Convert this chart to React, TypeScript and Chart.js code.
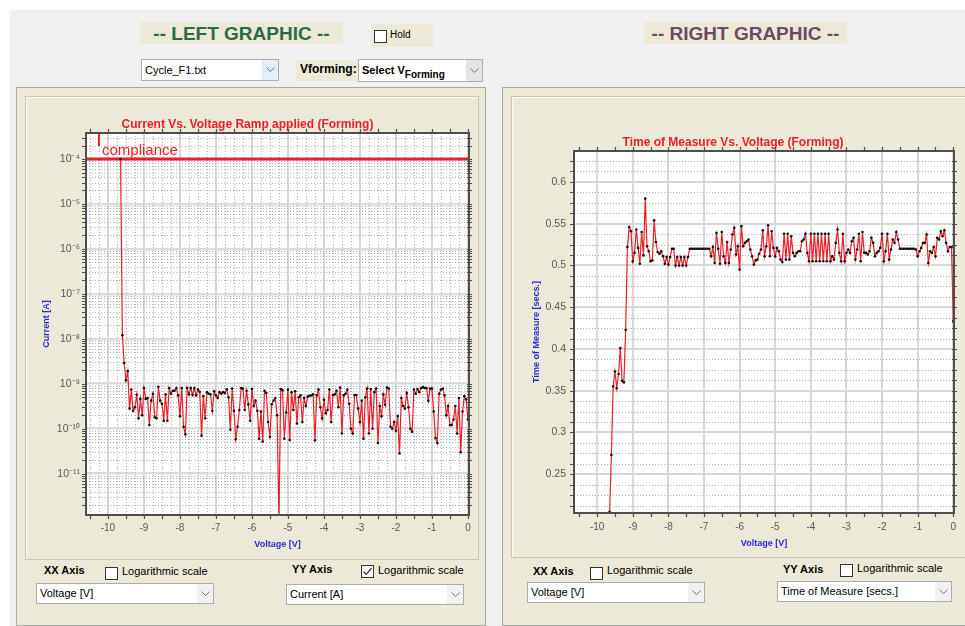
import React, { useEffect, useRef } from "react";
import { Chart, registerables } from "chart.js";
Chart.register(...registerables);

// ---------------- DATA ----------------
const VOLTAGE = [
  -9.65, -9.6, -9.55, -9.5, -9.45, -9.4, -9.35, -9.3, -9.25, -9.2,
  -9.15, -9.1, -9.05, -9, -8.95, -8.9, -8.85, -8.8, -8.75, -8.7,
  -8.65, -8.6, -8.55, -8.5, -8.45, -8.4, -8.35, -8.3, -8.25, -8.2,
  -8.15, -8.1, -8.05, -8, -7.95, -7.9, -7.85, -7.8, -7.75, -7.7,
  -7.65, -7.6, -7.55, -7.5, -7.45, -7.4, -7.35, -7.3, -7.25, -7.2,
  -7.15, -7.1, -7.05, -7, -6.95, -6.9, -6.85, -6.8, -6.75, -6.7,
  -6.65, -6.6, -6.55, -6.5, -6.45, -6.4, -6.35, -6.3, -6.25, -6.2,
  -6.15, -6.1, -6.05, -6, -5.95, -5.9, -5.85, -5.8, -5.75, -5.7,
  -5.65, -5.6, -5.55, -5.5, -5.45, -5.4, -5.35, -5.3, -5.25, -5.2,
  -5.15, -5.1, -5.05, -5, -4.95, -4.9, -4.85, -4.8, -4.75, -4.7,
  -4.65, -4.6, -4.55, -4.5, -4.45, -4.4, -4.35, -4.3, -4.25, -4.2,
  -4.15, -4.1, -4.05, -4, -3.95, -3.9, -3.85, -3.8, -3.75, -3.7,
  -3.65, -3.6, -3.55, -3.5, -3.45, -3.4, -3.35, -3.3, -3.25, -3.2,
  -3.15, -3.1, -3.05, -3, -2.95, -2.9, -2.85, -2.8, -2.75, -2.7,
  -2.65, -2.6, -2.55, -2.5, -2.45, -2.4, -2.35, -2.3, -2.25, -2.2,
  -2.15, -2.1, -2.05, -2, -1.95, -1.9, -1.85, -1.8, -1.75, -1.7,
  -1.65, -1.6, -1.55, -1.5, -1.45, -1.4, -1.35, -1.3, -1.25, -1.2,
  -1.15, -1.1, -1.05, -1, -0.95, -0.9, -0.85, -0.8, -0.75, -0.7,
  -0.65, -0.6, -0.55, -0.5, -0.45, -0.4, -0.35, -0.3, -0.25, -0.2,
  -0.15, -0.1, -0.05, 0,
];

const CURRENT = [
  1e-4, 1.2e-8, 2.9e-9, 1.2e-9, 1.9e-9, 2.8e-10, 7.4e-10, 2.5e-10, 3.0e-10, 5.7e-10,
  1.7e-10, 4.6e-10, 2.0e-10, 8.0e-10, 4.6e-10, 4.8e-10, 1.2e-10, 4.2e-10, 6.0e-10, 1.8e-10,
  1.7e-10, 8.6e-10, 4.2e-10, 3.6e-10, 1.5e-10, 5.8e-10, 1.5e-10, 8.0e-10, 6.0e-10, 7.0e-10,
  7.0e-10, 8.0e-10, 5.5e-10, 1.9e-10, 8.0e-10, 1.1e-10, 7.5e-11, 8.0e-10, 5.8e-10, 8.0e-10,
  5.6e-10, 8.0e-10, 5.5e-10, 7.4e-10, 6.6e-10, 7.0e-11, 5.3e-10, 1.7e-10, 6.5e-10, 6.0e-10,
  5.8e-10, 2.5e-10, 6.8e-10, 5.5e-10, 4.8e-10, 6.5e-10, 6.0e-10, 6.5e-10, 6.2e-10, 7.5e-10,
  5.0e-10, 9.5e-11, 7.8e-10, 2.5e-10, 5.8e-11, 1.1e-10, 2.6e-10, 8.0e-10, 7.8e-10, 2.6e-10,
  7.0e-10, 3.5e-10, 1.5e-10, 7.6e-10, 3.2e-10, 4.2e-10, 2.5e-10, 6.0e-11, 2.4e-10, 5.2e-11,
  7.0e-10, 6.2e-10, 1.4e-10, 6.5e-11, 3.5e-10, 4.2e-10, 4.8e-10, 2.0e-10, 8e-13, 7.6e-10,
  7.2e-10, 6.0e-11, 2.3e-10, 7.4e-10, 5.6e-11, 6.5e-10, 2.6e-10, 6.8e-10, 1.3e-10, 5.0e-10,
  5.5e-10, 1.4e-10, 4.8e-10, 3.2e-10, 5.2e-10, 5.4e-10, 5.5e-10, 5.8e-10, 5.5e-11, 5.5e-10,
  7.4e-10, 3.0e-10, 1.7e-10, 4.4e-10, 2.2e-10, 2.6e-10, 7.4e-10, 1.4e-10, 5.6e-10, 5.8e-10,
  7.0e-10, 3.0e-10, 8.2e-10, 7.8e-11, 5.5e-10, 6.0e-10, 7.4e-10, 3.6e-10, 1.0e-10, 7.8e-11,
  5.6e-10, 5.6e-10, 2.8e-10, 1.4e-10, 4.2e-10, 6.0e-11, 5.0e-10, 7.8e-10, 7.8e-11, 7.6e-10,
  1.0e-10, 6.5e-10, 7.8e-10, 4.8e-11, 3.2e-10, 1.9e-10, 5.8e-10, 3.4e-10, 8.2e-10, 7.8e-10,
  1.1e-10, 1.0e-10, 1.4e-10, 9.0e-11, 1.9e-10, 2.8e-11, 4.8e-10, 3.2e-10, 2.8e-10, 6.2e-10,
  3.0e-10, 1.0e-10, 8.6e-11, 7.4e-10, 6.0e-10, 7.6e-10, 6.5e-10, 8.0e-10, 8.4e-10, 8.0e-10,
  8.0e-10, 4.2e-10, 7.8e-10, 7.8e-10, 2.4e-10, 6.2e-11, 4.8e-11, 6.0e-10, 7.4e-10, 7.8e-10,
  5.5e-10, 2.0e-10, 3.2e-10, 1.2e-10, 1.2e-10, 1.6e-10, 3.2e-10, 7.8e-11, 4.8e-10, 3.0e-11,
  2.4e-10, 5.3e-10, 4.5e-10, 1.6e-10,
];

const TIME_OF_MEASURE = [
  0.205, 0.273, 0.355, 0.373, 0.353, 0.370, 0.401, 0.362, 0.360, 0.423,
  0.522, 0.546, 0.541, 0.505, 0.515, 0.543, 0.521, 0.502, 0.540, 0.512,
  0.580, 0.523, 0.517, 0.505, 0.506, 0.554, 0.528, 0.516, 0.514, 0.517,
  0.511, 0.502, 0.510, 0.501, 0.510, 0.520, 0.520, 0.500, 0.510, 0.500,
  0.510, 0.500, 0.510, 0.500, 0.510, 0.520, 0.520, 0.520, 0.520, 0.520,
  0.520, 0.520, 0.520, 0.520, 0.520, 0.520, 0.520, 0.511, 0.522, 0.503,
  0.539, 0.520, 0.502, 0.540, 0.511, 0.503, 0.528, 0.503, 0.519, 0.537,
  0.545, 0.513, 0.523, 0.495, 0.547, 0.523, 0.527, 0.529, 0.531, 0.519,
  0.511, 0.501, 0.506, 0.507, 0.514, 0.519, 0.542, 0.511, 0.523, 0.548,
  0.511, 0.541, 0.521, 0.511, 0.521, 0.517, 0.507, 0.504, 0.538, 0.507,
  0.538, 0.507, 0.535, 0.515, 0.511, 0.515, 0.517, 0.517, 0.529, 0.531,
  0.538, 0.515, 0.505, 0.538, 0.505, 0.538, 0.505, 0.538, 0.505, 0.538,
  0.505, 0.538, 0.505, 0.538, 0.505, 0.511, 0.507, 0.527, 0.543, 0.515,
  0.505, 0.538, 0.505, 0.515, 0.519, 0.515, 0.529, 0.533, 0.507, 0.519,
  0.538, 0.505, 0.540, 0.515, 0.515, 0.513, 0.517, 0.533, 0.527, 0.511,
  0.515, 0.517, 0.521, 0.538, 0.505, 0.517, 0.538, 0.507, 0.519, 0.531,
  0.527, 0.540, 0.531, 0.520, 0.520, 0.520, 0.520, 0.520, 0.520, 0.520,
  0.520, 0.520, 0.519, 0.511, 0.517, 0.521, 0.527, 0.527, 0.537, 0.503,
  0.517, 0.515, 0.522, 0.511, 0.533, 0.531, 0.541, 0.535, 0.542, 0.527,
  0.517, 0.522, 0.522, 0.433,
];

const COMPLIANCE = 1e-4;
const X_TICKS = [-10, -9, -8, -7, -6, -5, -4, -3, -2, -1, 0];
const LEFT_Y_TICKS = [1e-11, 1e-10, 1e-9, 1e-8, 1e-7, 1e-6, 1e-5, 1e-4];
const RIGHT_Y_TICKS = [0.25, 0.3, 0.35, 0.4, 0.45, 0.5, 0.55, 0.6];

// ---------------- STYLE ----------------
const UI = '"Liberation Sans", Arial, sans-serif';
const RED = "#E8202A";
const BLUE = "#2A2ADA";
const TICK_COLOR = "#5A5A5A";
const BEIGE = "#ECE9D8";

const SUP: Record<string, string> = {
  "-": "\u207B", "0": "\u2070", "1": "\u00B9", "2": "\u00B2", "3": "\u00B3",
  "4": "\u2074", "5": "\u2075", "6": "\u2076", "7": "\u2077", "8": "\u2078", "9": "\u2079",
};
const sup = (n: number) => String(n).split("").map((c) => SUP[c] ?? c).join("");

type Deco = {
  xMinor: number[];
  yMinor: number[];
  xMarks: number[];
  yMarks: number[];
  compliance?: boolean;
};

function decoPlugin(d: Deco) {
  return {
    id: "deco",
    beforeDraw(chart: any) {
      const { ctx, chartArea: a } = chart;
      ctx.save();
      ctx.fillStyle = "#ffffff";
      ctx.fillRect(a.left, a.top, a.right - a.left, a.bottom - a.top);
      ctx.restore();
    },
    beforeDatasetsDraw(chart: any) {
      const { ctx, chartArea: a, scales } = chart;
      ctx.save();
      ctx.strokeStyle = "#B4B4B4";
      ctx.lineWidth = 1;
      ctx.setLineDash([1, 2]);
      ctx.beginPath();
      d.xMinor.forEach((v) => {
        const p = Math.round(scales.x.getPixelForValue(v)) + 0.5;
        if (p <= a.left || p >= a.right) return;
        ctx.moveTo(p, a.top);
        ctx.lineTo(p, a.bottom);
      });
      d.yMinor.forEach((v) => {
        const p = Math.round(scales.y.getPixelForValue(v)) + 0.5;
        if (p <= a.top || p >= a.bottom) return;
        ctx.moveTo(a.left, p);
        ctx.lineTo(a.right, p);
      });
      ctx.stroke();
      ctx.restore();
    },
    afterDraw(chart: any) {
      const { ctx, chartArea: a, scales } = chart;
      ctx.save();
      ctx.strokeStyle = "#505050";
      ctx.lineWidth = 1.2;
      ctx.beginPath();
      d.xMarks.forEach((v) => {
        const p = Math.round(scales.x.getPixelForValue(v)) + 0.5;
        if (p < a.left || p > a.right) return;
        ctx.moveTo(p, a.bottom);
        ctx.lineTo(p, a.bottom + 4);
        ctx.moveTo(p, a.top);
        ctx.lineTo(p, a.top - 4);
      });
      d.yMarks.forEach((v) => {
        const p = Math.round(scales.y.getPixelForValue(v)) + 0.5;
        if (p < a.top || p > a.bottom) return;
        ctx.moveTo(a.left, p);
        ctx.lineTo(a.left - 4, p);
        ctx.moveTo(a.right - 2, p);
        ctx.lineTo(a.right + 3, p);
      });
      ctx.stroke();
      ctx.strokeStyle = "#4E4E4E";
      ctx.lineWidth = 2;
      ctx.strokeRect(a.left, a.top, a.right - a.left, a.bottom - a.top);
      if (d.compliance) {
        const xp = scales.x.getPixelForValue(-10.25);
        const yp = scales.y.getPixelForValue(COMPLIANCE);
        ctx.strokeStyle = RED;
        ctx.lineWidth = 2;
        ctx.beginPath();
        ctx.moveTo(xp, a.top + 1);
        ctx.lineTo(xp, a.top + 13);
        ctx.stroke();
        ctx.fillStyle = RED;
        ctx.font = `15px ${UI}`;
        ctx.textBaseline = "middle";
        ctx.textAlign = "left";
        ctx.fillText("compliance", xp + 3, yp - 8);
      }
      ctx.restore();
    },
  };
}

const tickFont = { family: UI, size: 10 };
const axisTitleFont = { family: UI, size: 9, weight: "bold" as const, lineHeight: 1.2 };
const titleFont = { family: UI, size: 12, weight: "bold" as const, lineHeight: 1.2 };

function leftConfig(): any {
  const xMin = -10.61, xMax = 0.03, yMin = 1.2e-12, yMax = 3.8e-4;
  const xMinor: number[] = [];
  for (let k = -42; k <= 0; k++) if (k % 4 !== 0) xMinor.push(k / 4);
  const yMinor: number[] = [];
  for (let e = -12; e <= -4; e++) for (let m = 2; m <= 9; m++) {
    const v = m * Math.pow(10, e);
    if (v > yMin && v < yMax) yMinor.push(v);
  }
  const xMarks: number[] = [];
  for (let k = -21; k <= 0; k++) xMarks.push(k / 2);
  return {
    type: "line",
    data: {
      datasets: [
        {
          data: VOLTAGE.map((v, i) => ({ x: v, y: CURRENT[i] })),
          borderColor: RED, borderWidth: 1.2, pointRadius: 1.3,
          pointBackgroundColor: "#111", pointBorderWidth: 0, clip: 0,
        },
        {
          data: [{ x: xMin, y: COMPLIANCE }, { x: xMax, y: COMPLIANCE }],
          borderColor: RED, borderWidth: 3, pointRadius: 0, clip: 0,
        },
      ],
    },
    options: {
      animation: false, responsive: false, devicePixelRatio: 1,
      layout: { padding: { left: 0, right: 9, top: 0, bottom: 0 } },
      elements: { line: { tension: 0 } },
      plugins: {
        legend: { display: false }, tooltip: { enabled: false },
        title: {
          display: true, text: "Current Vs. Voltage Ramp applied (Forming)",
          color: RED, font: titleFont, padding: { top: 20.3, bottom: 1.3 },
        },
      },
      scales: {
        x: {
          type: "linear", min: xMin, max: xMax,
          afterBuildTicks: (s: any) => { s.ticks = X_TICKS.map((v) => ({ value: v })); },
          afterFit: (s: any) => { s.height = 44; },
          ticks: { color: TICK_COLOR, font: tickFont, padding: 7, autoSkip: false, maxRotation: 0, callback: (v: any) => String(v) },
          grid: { color: "#D8D8D8", lineWidth: 2, drawTicks: false },
          border: { display: false },
          title: { display: true, text: "Voltage [V]", color: BLUE, font: axisTitleFont, padding: { top: 0, bottom: 8.6 } },
        },
        y: {
          type: "logarithmic", min: yMin, max: yMax,
          afterBuildTicks: (s: any) => { s.ticks = LEFT_Y_TICKS.map((v) => ({ value: v })); },
          afterFit: (s: any) => { s.width = 60; },
          ticks: { color: TICK_COLOR, font: { family: UI, size: 10.5 }, padding: 6, autoSkip: false, callback: (v: any) => "10" + sup(Math.round(Math.log10(v))) },
          grid: { color: "#DCDCDC", lineWidth: 2.5, drawTicks: false },
          border: { display: false },
          title: { display: true, text: "Current [A]", color: BLUE, font: axisTitleFont, padding: { top: 15.6, bottom: 0 } },
        },
      },
    },
    plugins: [decoPlugin({ xMinor, yMinor, xMarks, yMarks: [...yMinor, ...LEFT_Y_TICKS], compliance: true })],
  };
}

function rightConfig(): any {
  const xMin = -10.65, xMax = 0.02, yMin = 0.2036, yMax = 0.637;
  const yMinor: number[] = [];
  for (let k = 17; k <= 50; k++) if (k % 4 !== 0) yMinor.push(k * 0.0125);
  const xMarks: number[] = [];
  for (let k = -21; k <= 0; k++) xMarks.push(k / 2);
  return {
    type: "line",
    data: {
      datasets: [
        {
          data: VOLTAGE.map((v, i) => ({ x: v, y: TIME_OF_MEASURE[i] })),
          borderColor: RED, borderWidth: 1.2, pointRadius: 1.3,
          pointBackgroundColor: "#111", pointBorderWidth: 0, clip: 0,
        },
      ],
    },
    options: {
      animation: false, responsive: false, devicePixelRatio: 1,
      layout: { padding: { left: 0, right: 11, top: 0, bottom: 0 } },
      elements: { line: { tension: 0 } },
      plugins: {
        legend: { display: false }, tooltip: { enabled: false },
        title: {
          display: true, text: "Time of Measure Vs. Voltage (Forming)",
          color: RED, font: titleFont, padding: { top: 38.3, bottom: 1.3 },
        },
      },
      scales: {
        x: {
          type: "linear", min: xMin, max: xMax,
          afterBuildTicks: (s: any) => { s.ticks = X_TICKS.map((v) => ({ value: v })); },
          afterFit: (s: any) => { s.height = 46; },
          ticks: { color: TICK_COLOR, font: tickFont, padding: 8, autoSkip: false, maxRotation: 0, callback: (v: any) => String(v) },
          grid: { color: "#D8D8D8", lineWidth: 2, drawTicks: false },
          border: { display: false },
          title: { display: true, text: "Voltage [V]", color: BLUE, font: axisTitleFont, padding: { top: 0, bottom: 9.6 } },
        },
        y: {
          type: "linear", min: yMin, max: yMax,
          afterBuildTicks: (s: any) => { s.ticks = RIGHT_Y_TICKS.map((v) => ({ value: v })); },
          afterFit: (s: any) => { s.width = 62; },
          ticks: { color: TICK_COLOR, font: { family: UI, size: 10.5 }, padding: 8, autoSkip: false, callback: (v: any) => String(v) },
          grid: { color: "#D8D8D8", lineWidth: 2, drawTicks: false },
          border: { display: false },
          title: { display: true, text: "Time of Measure [secs.]", color: BLUE, font: axisTitleFont, padding: { top: 19.6, bottom: 0 } },
        },
      },
    },
    plugins: [decoPlugin({ xMinor: [], yMinor, xMarks, yMarks: [...yMinor, ...RIGHT_Y_TICKS] })],
  };
}

// ---------------- UI PIECES ----------------
function ChartCanvas({ make, l, t, w, h }: { make: () => any; l: number; t: number; w: number; h: number }) {
  const ref = useRef<HTMLCanvasElement>(null);
  useEffect(() => {
    const chart = new Chart(ref.current as HTMLCanvasElement, make());
    return () => chart.destroy();
  }, []);
  return (
    <canvas ref={ref} width={w} height={h}
      style={{ position: "absolute", left: l, top: t, width: w, height: h, display: "block" }} />
  );
}

function Abs({ l, t, w, h, style, children }: any) {
  return (
    <div style={{ position: "absolute", left: l, top: t, width: w, height: h, boxSizing: "border-box", ...style }}>
      {children}
    </div>
  );
}

function Txt({ l, cy, text, size = 11, bold = false, color = "#000" }: any) {
  return (
    <div style={{ position: "absolute", left: l, top: cy - 8, height: 16, lineHeight: "16px", whiteSpace: "nowrap",
      font: `${bold ? "bold " : ""}${size}px ${UI}`, color }}>{text}</div>
  );
}

function Combo({ l, t, w, h, children, arrowBg = "#F0F0F0" }: any) {
  return (
    <Abs l={l} t={t} w={w} h={h} style={{ background: "#fff", border: "1px solid #ABADB3", font: `11px ${UI}`, color: "#000" }}>
      <div style={{ position: "absolute", left: 3, top: 0, height: h - 2, lineHeight: `${h - 2}px`, whiteSpace: "nowrap" }}>{children}</div>
      <div style={{ position: "absolute", right: 0, top: 0, width: 16, height: h - 2, background: arrowBg,
        display: "flex", alignItems: "center", justifyContent: "center" }}>
        <svg width="9" height="6"><polyline points="0.5,0.5 4.5,4.5 8.5,0.5" fill="none" stroke="#777" strokeWidth="1" /></svg>
      </div>
    </Abs>
  );
}

function Check({ l, t, checked = false }: any) {
  return (
    <Abs l={l} t={t} w={13} h={13} style={{ border: "1px solid #333", background: "#fff" }}>
      {checked && (
        <svg width="11" height="11" style={{ position: "absolute", left: 0, top: 0 }}>
          <polyline points="1.5,5.5 4.3,8.3 9.5,2" fill="none" stroke="#333" strokeWidth="1.2" />
        </svg>
      )}
    </Abs>
  );
}

export default function App() {
  return (
    <div style={{ position: "relative", width: 965, height: 626, overflow: "hidden", background: "#fff", fontFamily: UI }}>
      <style>{`body{margin:0}`}</style>
      <Abs l={10} t={10} w={955} h={616} style={{ background: "#F0F0F0" }} />

      <Abs l={140} t={22} w={203} h={22} style={{ background: BEIGE, textAlign: "center", font: `bold 19px ${UI}`, color: "#2F6A48", lineHeight: "23px" }}>
        -- LEFT GRAPHIC --
      </Abs>
      <Abs l={371} t={24} w={62} h={23} style={{ background: BEIGE }} />
      <Check l={374} t={30} />
      <Txt l={390} cy={37} text="Hold" size={10} />
      <Combo l={141} t={59} w={138} h={22} arrowBg="#E3EEF8">Cycle_F1.txt</Combo>
      <Abs l={296} t={60} w={62} h={21} style={{ background: BEIGE }} />
      <Txt l={300} cy={70} text="Vforming:" size={12} bold />
      <Combo l={358} t={59} w={125} h={23} arrowBg="#E4E4E4">
        <span style={{ fontWeight: "bold" }}>Select V<sub style={{ fontSize: 10, verticalAlign: "-4px" }}>Forming</sub></span>
      </Combo>
      <Abs l={644} t={22} w={203} h={22} style={{ background: BEIGE, textAlign: "center", font: `bold 19px ${UI}`, color: "#6C4A66", lineHeight: "23px" }}>
        -- RIGHT GRAPHIC --
      </Abs>

      <Abs l={16} t={87} w={470} h={539} style={{ background: BEIGE, border: "1px solid #A8A8A8" }} />
      <Abs l={25} t={96} w={454} h={464} style={{ border: "1px solid #CBC7B2", boxShadow: "inset 1px 1px 0 #FAF9F3" }} />
      <ChartCanvas make={leftConfig} l={26} t={97} w={452} h={462} />
      <Txt l={44} cy={572} text="XX Axis" bold />
      <Check l={105} t={567} />
      <Txt l={122} cy={573} text="Logarithmic scale" />
      <Combo l={36} t={583} w={178} h={21}>Voltage [V]</Combo>
      <Txt l={292} cy={571} text="YY Axis" bold />
      <Check l={361} t={565} checked />
      <Txt l={378} cy={572} text="Logarithmic scale" />
      <Combo l={286} t={584} w={178} h={21}>Current [A]</Combo>

      <Abs l={502} t={87} w={470} h={539} style={{ background: BEIGE, border: "1px solid #A8A8A8" }} />
      <Abs l={511} t={96} w={460} h={462} style={{ border: "1px solid #CBC7B2", boxShadow: "inset 1px 1px 0 #FAF9F3" }} />
      <ChartCanvas make={rightConfig} l={512} t={97} w={453} h={462} />
      <Txt l={533} cy={573} text="XX Axis" bold />
      <Check l={590} t={567} />
      <Txt l={607} cy={572} text="Logarithmic scale" />
      <Combo l={527} t={582} w={178} h={21}>Voltage [V]</Combo>
      <Txt l={783} cy={571} text="YY Axis" bold />
      <Check l={840} t={564} />
      <Txt l={857} cy={570} text="Logarithmic scale" />
      <Combo l={777} t={581} w={175} h={21}>Time of Measure [secs.]</Combo>
    </div>
  );
}
